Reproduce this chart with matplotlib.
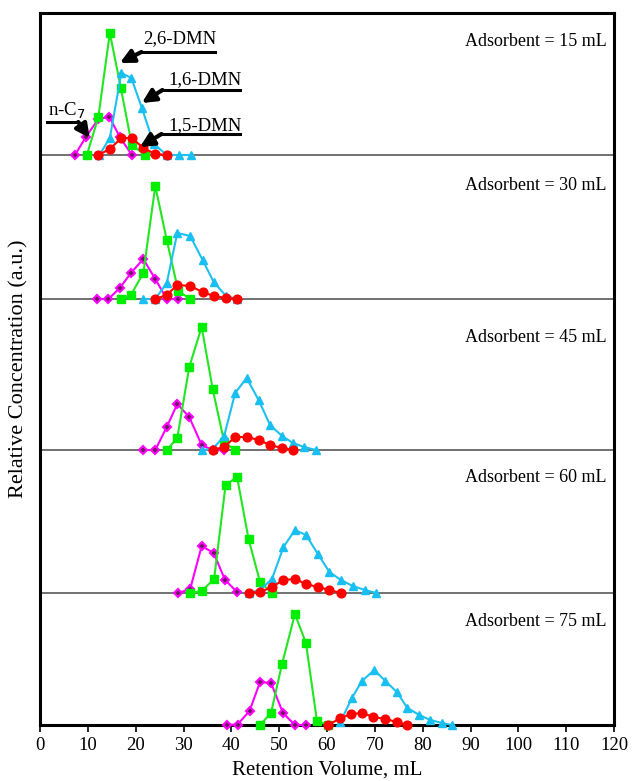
import matplotlib
matplotlib.use("Agg")
import matplotlib.pyplot as plt

# ---------------- data (retention volume mL, relative concentration a.u.) ----------------
panels = ["Adsorbent = 15 mL", "Adsorbent = 30 mL", "Adsorbent = 45 mL",
          "Adsorbent = 60 mL", "Adsorbent = 75 mL"]

# n-C7 (magenta)
nc7_x = [[7.3, 9.6, 12.2, 14.5, 16.7, 19.2],
         [12.0, 14.3, 16.7, 19.0, 21.6, 24.1, 26.5, 28.9],
         [21.6, 24.1, 26.5, 28.7, 31.2, 33.8, 36.1, 38.5],
         [28.9, 31.4, 33.8, 36.3, 38.7, 41.2],
         [39.1, 41.3, 43.8, 46.0, 48.3, 50.8, 53.3, 55.6]]
nc7_y = [[0, 18, 36, 38, 18, 0],
         [0, 0, 11, 26, 40, 20, 0, 0],
         [0, 0, 23, 46, 33, 5, 0, 0],
         [0, 4, 47, 40, 13, 1],
         [0, 0.5, 14, 43, 42, 12, 0, 0]]

# 2,6-DMN (green)
dmn26_x = [[9.8, 12.2, 14.6, 16.9, 19.2, 22.0],
           [16.9, 19.0, 21.6, 24.1, 26.5, 28.9, 31.4],
           [26.5, 28.7, 31.2, 33.8, 36.1, 38.5, 40.8],
           [31.4, 33.8, 36.4, 38.8, 41.2, 43.6, 46.0, 48.5],
           [46.0, 48.3, 50.6, 53.3, 55.6, 57.9, 60.3]]
dmn26_y = [[0, 38, 122, 67, 10, 0],
           [0, 4, 26, 113, 59, 8, 0],
           [0, 12, 83, 123, 61, 8, 0],
           [0, 2, 14, 108, 116, 54, 11, 0],
           [0, 12, 61, 111, 82, 4, 0]]

# 1,6-DMN (cyan)
dmn16_x = [[12.4, 14.6, 17.0, 19.1, 21.3, 23.8, 26.5, 29.1, 31.6],
           [21.6, 24.1, 26.5, 28.7, 31.4, 34.0, 36.3, 38.9, 41.2],
           [33.8, 36.1, 38.5, 40.8, 43.2, 45.7, 48.1, 50.6, 52.9, 55.2, 57.7],
           [43.6, 46.0, 48.5, 50.9, 53.3, 55.6, 58.1, 60.5, 62.9, 65.4, 67.9, 70.3],
           [62.8, 65.2, 67.3, 69.9, 72.2, 74.6, 76.8, 79.3, 81.6, 84.0, 86.1]]
dmn16_y = [[0, 17, 82, 77, 47, 11, 0, 0, 0],
           [0, 0, 16, 66, 63, 39, 17, 3, 0],
           [0, 1, 14, 57, 72, 50, 25, 14, 7, 3, 0],
           [0, 3, 14, 46, 63, 58, 39, 21, 13, 7, 3, 0],
           [3, 27, 44, 55, 44, 33, 17, 10, 5, 2, 0]]

# 1,5-DMN (red)
dmn15_x = [[12.2, 14.6, 17.0, 19.2, 21.6, 24.1, 26.5],
           [24.1, 26.5, 28.7, 31.4, 34.0, 36.3, 38.9, 41.2],
           [36.1, 38.5, 40.8, 43.2, 45.7, 48.1, 50.6, 52.9],
           [43.6, 46.0, 48.5, 50.9, 53.3, 55.6, 58.1, 60.5, 62.9],
           [60.3, 62.8, 65.1, 67.4, 69.7, 72.2, 74.6, 76.8]]
dmn15_y = [[0, 6, 17, 17, 7, 1, 0],
           [0, 4, 14, 13, 7, 3, 1, 0],
           [0, 3, 13, 13, 10, 5, 2, 0],
           [0, 1, 6, 13, 14, 9, 6, 3, 0],
           [0, 7, 11, 12, 8, 6, 3, 0]]

x_ticks = list(range(0, 121, 10))

# ---------------- layout ----------------
baselines = [570, 426, 275, 132, 0]
label_y = [683, 540, 388, 247, 103]
y_top = 712

serif = ["Liberation Serif", "DejaVu Serif"]
plt.rcParams["font.family"] = serif

W, H = 634, 781
fig = plt.figure(figsize=(W / 100, H / 100), dpi=100)
ax = fig.add_axes([40 / W, 56 / H, 574 / W, 712 / H])

for b in baselines[:-1]:
    ax.axhline(b, color="#666666", lw=1.3, zorder=1)

styles = [
    (nc7_x, nc7_y, dict(color="#ff00ff", marker="D", ms=4, mfc="#6a1b5a", mec="#ff00ff", mew=1.5)),
    (dmn26_x, dmn26_y, dict(color="#22e622", marker="s", ms=5.5, mfc="#00ee00", mec="#00ee00")),
    (dmn16_x, dmn16_y, dict(color="#1ec0ee", marker="^", ms=6.2, mfc="#18bff0", mec="#18bff0")),
    (dmn15_x, dmn15_y, dict(color="#ff0000", marker="o", ms=6.3, mfc="#ff0000", mec="#ff0000")),
]
for xs, ys, st in styles:
    for i, b in enumerate(baselines):
        ax.plot(xs[i], [b + v for v in ys[i]], lw=1.5, zorder=3, clip_on=False, **st)

for i, t in enumerate(panels):
    ax.text(118.5, label_y[i], t, ha="right", va="center", fontsize=13)

# annotations in the top panel
arrow = dict(arrowstyle="-|>,head_length=0.8,head_width=0.4", color="black", lw=3, shrinkA=0, shrinkB=0)
ann = [
    ("2,6-DMN", 21.5, 686, 21.2, 36.5, 673, (21.2, 673), (16.7, 662)),
    ("1,6-DMN", 26.8, 645, 25.6, 41.8, 635, (25.6, 635), (21.3, 622)),
    ("1,5-DMN", 26.8, 599, 25.4, 41.8, 591, (25.4, 591), (20.9, 578)),
]
for txt, tx, ty, ux0, ux1, uy, tail, tip in ann:
    ax.text(tx, ty, txt, ha="left", va="center", fontsize=13.5)
    ax.plot([ux0, ux1], [uy, uy], color="black", lw=2.2, zorder=4)
    ax.annotate("", xy=tip, xytext=tail, arrowprops=arrow)
ax.text(1.6, 614, "n-C$_7$", ha="left", va="center", fontsize=13.5)
ax.plot([1.4, 8.0], [603, 603], color="black", lw=2.2, zorder=4)
ax.annotate("", xy=(10.4, 587), xytext=(8.0, 603), arrowprops=arrow)

ax.set_xlim(0, 120)
ax.set_ylim(0, y_top)
ax.set_xticks(x_ticks)
ax.set_yticks([])
ax.tick_params(axis="x", direction="out", length=5, width=1.2, labelsize=13.5, pad=4)
for s in ax.spines.values():
    s.set_linewidth(2.2)
ax.set_xlabel("Retention Volume, mL", fontsize=15, labelpad=4)
ax.set_ylabel("Relative Concentration (a.u.)", fontsize=16, labelpad=8)

fig.savefig("out.png", dpi=100)
